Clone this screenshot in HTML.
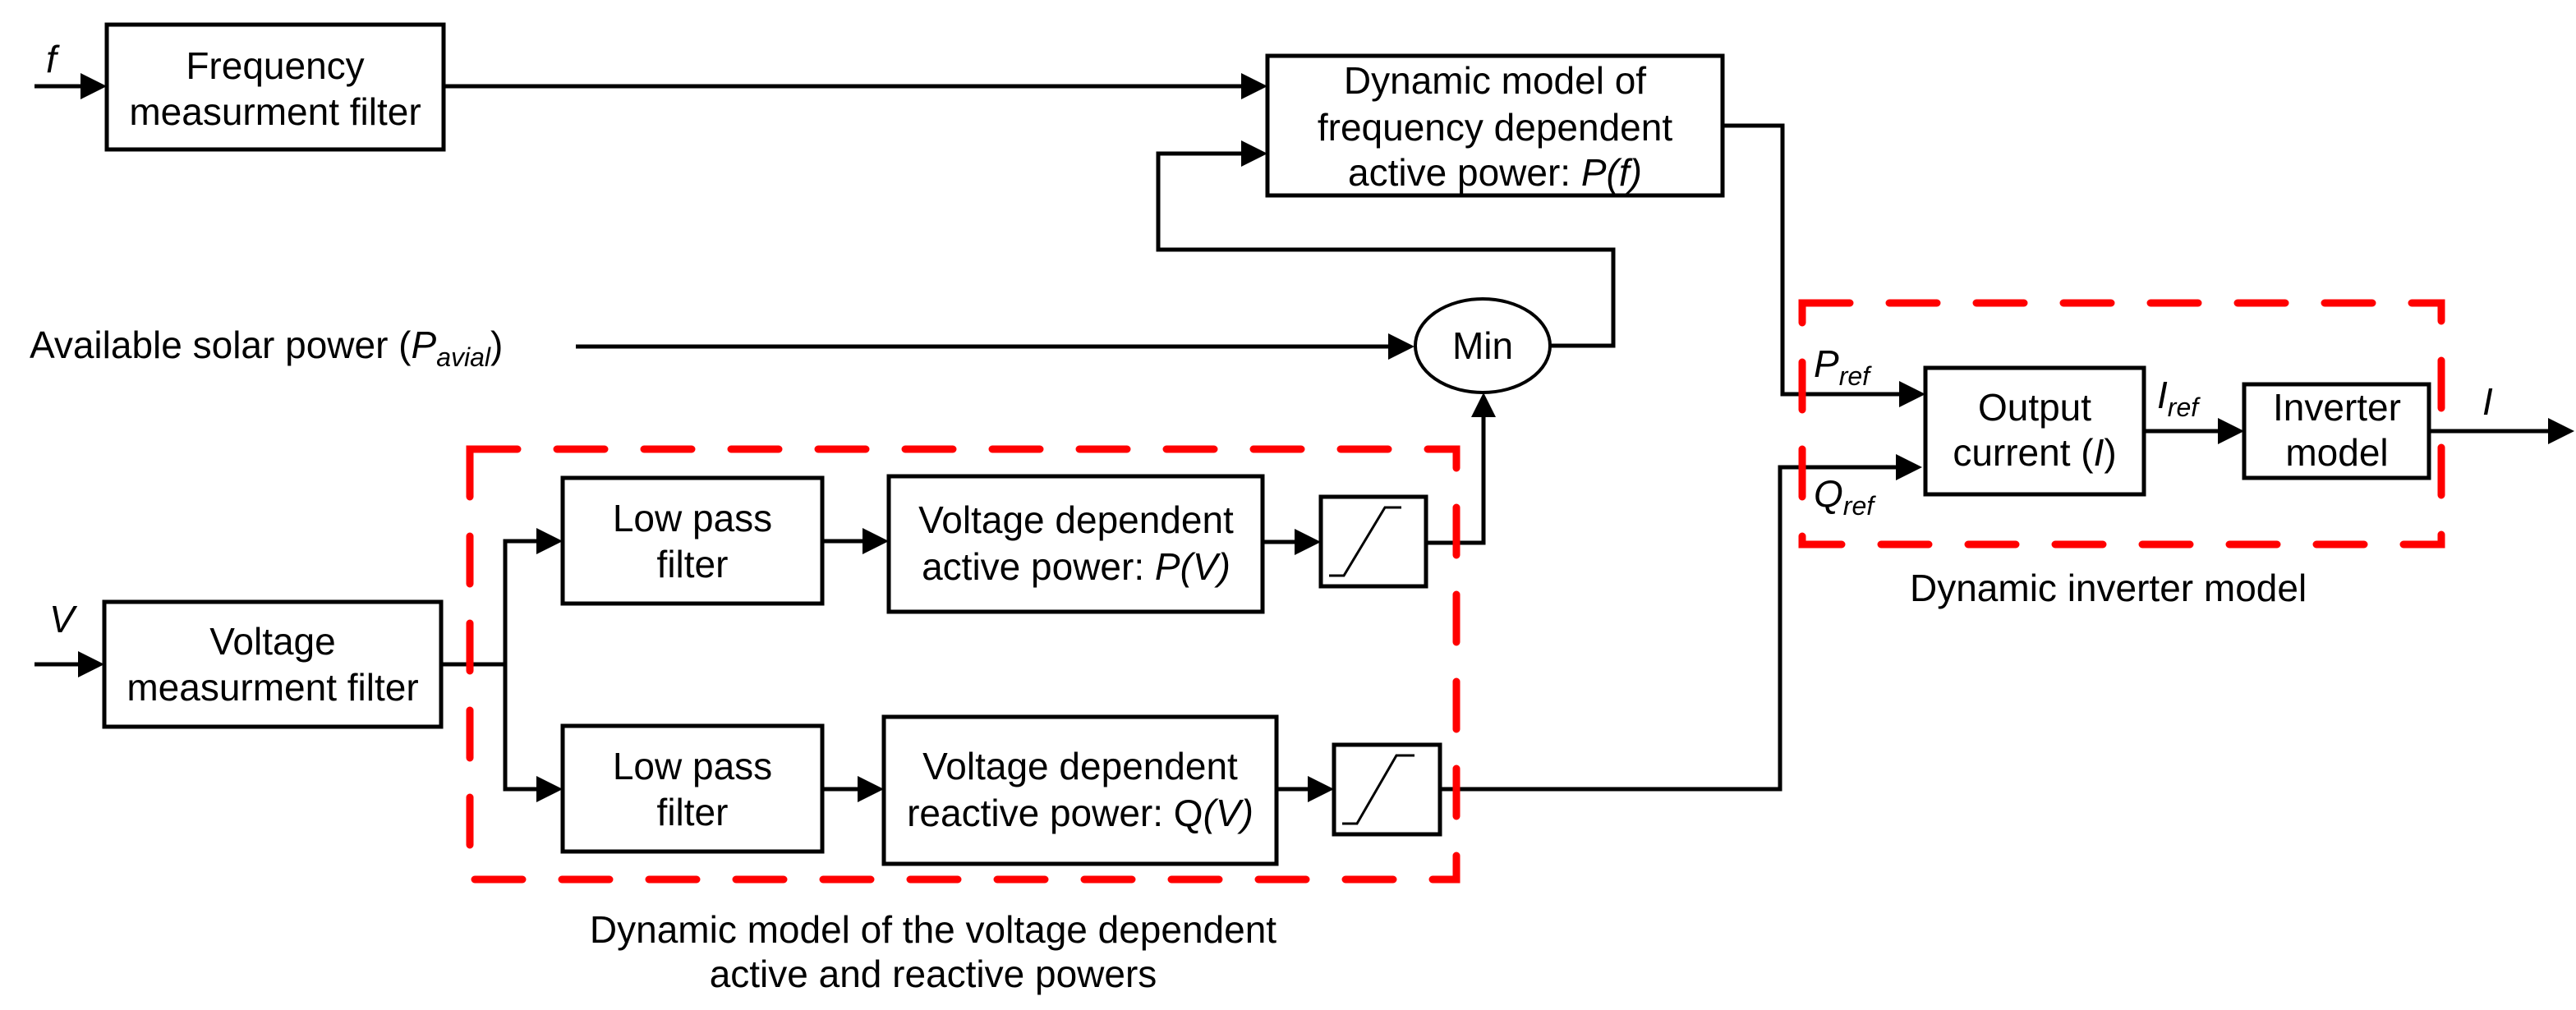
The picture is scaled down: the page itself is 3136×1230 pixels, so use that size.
<!DOCTYPE html>
<html><head><meta charset="utf-8"><style>
html,body{margin:0;padding:0;background:#fff;}
svg{display:block;}
text{font-family:"Liberation Sans",Arial,sans-serif;font-size:46px;fill:#000;}
</style></head><body>
<svg width="3136" height="1230" viewBox="0 0 3136 1230" xmlns="http://www.w3.org/2000/svg">
<g fill="none" stroke="#000" stroke-width="5">
<rect x="130" y="30" width="410" height="152"/>
<rect x="1543" y="68" width="554" height="170"/>
<ellipse cx="1805" cy="421" rx="82" ry="57" stroke-width="4"/>
<rect x="127" y="733" width="410" height="152"/>
<rect x="685" y="582" width="316" height="153"/>
<rect x="685" y="884" width="316" height="153"/>
<rect x="1082" y="580" width="455" height="165"/>
<rect x="1076" y="873" width="478" height="179"/>
<rect x="1608" y="605" width="128" height="109"/>
<rect x="1624" y="907" width="129" height="109"/>
<rect x="2344" y="448" width="266" height="154"/>
<rect x="2732" y="468" width="225" height="114"/>
<polyline points="1618,701 1636,701 1686,618 1706,618" stroke-width="3"/>
<polyline points="1634,1003 1652,1003 1700,920 1722,920" stroke-width="3"/>
<line x1="42" y1="105" x2="100" y2="105"/>
<line x1="540" y1="105" x2="1515" y2="105"/>
<polyline points="1515,187 1410,187 1410,304 1964,304 1964,421 1887,421"/>
<line x1="701" y1="422" x2="1695" y2="422"/>
<polyline points="2097,153 2170,153 2170,480 2316,480"/>
<polyline points="1753,961 2167,961 2167,569 2312,569"/>
<line x1="2610" y1="525" x2="2704" y2="525"/>
<line x1="2957" y1="525" x2="3106" y2="525"/>
<line x1="42" y1="809" x2="100" y2="809"/>
<polyline points="537,809 615,809"/>
<polyline points="658,659 615,659 615,961 658,961"/>
<line x1="1001" y1="659" x2="1055" y2="659"/>
<line x1="1001" y1="961" x2="1049" y2="961"/>
<line x1="1537" y1="660" x2="1581" y2="660"/>
<line x1="1554" y1="961" x2="1597" y2="961"/>
<polyline points="1736,661 1806,661 1806,505"/>
</g>
<g fill="#000">
<polygon points="130,105 98,89 98,121"/>
<polygon points="1543,105 1511,89 1511,121"/>
<polygon points="1543,187 1511,171 1511,203"/>
<polygon points="1722,422 1690,406 1690,438"/>
<polygon points="1806,478 1791,508 1821,508"/>
<polygon points="2344,480 2312,464 2312,496"/>
<polygon points="2340,569 2308,553 2308,585"/>
<polygon points="2732,525 2700,509 2700,541"/>
<polygon points="3134,525 3102,509 3102,541"/>
<polygon points="127,809 95,793 95,825"/>
<polygon points="685,659 653,643 653,675"/>
<polygon points="685,961 653,945 653,977"/>
<polygon points="1082,659 1050,643 1050,675"/>
<polygon points="1076,961 1044,945 1044,977"/>
<polygon points="1608,660 1576,644 1576,676"/>
<polygon points="1624,961 1592,945 1592,977"/>
</g>
<g fill="none" stroke="#ff0000" stroke-width="9" stroke-linecap="round" stroke-dasharray="58,48">
<rect x="572" y="547" width="1201" height="524"/>
<rect x="2194" y="369" width="778" height="294"/>
</g>
<g text-anchor="middle">
<text x="335" y="96">Frequency</text>
<text x="335" y="152">measurment filter</text>
<text x="1820" y="114">Dynamic model of</text>
<text x="1820" y="171">frequency dependent</text>
<text x="1820" y="226">active power: <tspan font-style="italic">P(f)</tspan></text>
<text x="1805" y="437">Min</text>
<text x="332" y="797">Voltage</text>
<text x="332" y="853">measurment filter</text>
<text x="843" y="647">Low pass</text>
<text x="843" y="703">filter</text>
<text x="843" y="949">Low pass</text>
<text x="843" y="1005">filter</text>
<text x="1310" y="649">Voltage dependent</text>
<text x="1310" y="706">active power: <tspan font-style="italic">P(V)</tspan></text>
<text x="1315" y="949">Voltage dependent</text>
<text x="1315" y="1006">reactive power: Q<tspan font-style="italic">(V)</tspan></text>
<text x="2477" y="512">Output</text>
<text x="2477" y="567">current (<tspan font-style="italic">I</tspan>)</text>
<text x="2845" y="512">Inverter</text>
<text x="2845" y="567">model</text>
<text x="1136" y="1148">Dynamic model of the voltage dependent</text>
<text x="1136" y="1202">active and reactive powers</text>
</g>
<text x="2325" y="732">Dynamic inverter model</text>
<text x="36" y="436">Available solar power (<tspan font-style="italic">P</tspan><tspan font-style="italic" font-size="32" dy="10">avial</tspan><tspan dy="-10">)</tspan></text>
<text x="56" y="88" font-style="italic">f</text>
<text x="60" y="770" font-style="italic">V</text>
<text x="2208" y="459" font-style="italic">P<tspan font-size="32" dy="10">ref</tspan></text>
<text x="2208" y="617" font-style="italic">Q<tspan font-size="32" dy="10">ref</tspan></text>
<text x="2626" y="497" font-style="italic">I<tspan font-size="32" dy="10">ref</tspan></text>
<text x="3022" y="505" font-style="italic">I</text>
</svg>
</body></html>
